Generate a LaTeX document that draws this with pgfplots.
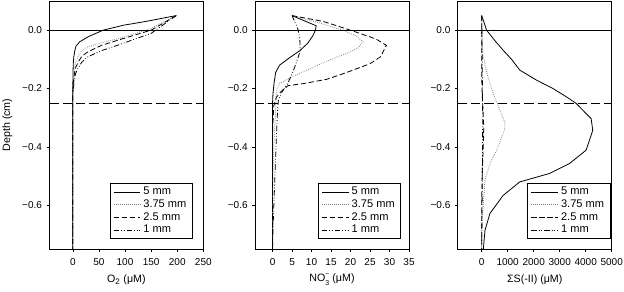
\documentclass[border=0pt]{standalone}
\usepackage{fontspec}
\setmainfont{Liberation Sans}
\usepackage{pgfplots}
\pgfplotsset{compat=1.18}
\pgfplotsset{
 panel/.style={
  scale only axis, width=115.5pt, height=186pt,
  ymin=-0.75, ymax=0.1,
  ytick={-0.6,-0.4,-0.2,0}, yticklabels={−0.6,−0.4,−0.2,0.0},
  tick align=outside, major tick length=2pt,
  xtick pos=bottom, ytick pos=left,
  tick style={black, line width=0.4pt},
  axis line style={line width=0.5pt},
  ticklabel style={font=\fontsize{7.5}{8.5}\selectfont},
  xticklabel style={yshift=-1.5pt},
  label style={font=\fontsize{8}{9.5}\selectfont},
  xlabel style={at={(axis description cs:0.5,0)}, anchor=center, yshift=-23.25pt},
  legend style={at={(rel axis cs:1,0)}, anchor=south east, yshift=7.5pt,
    font=\fontsize{8.3}{9.3}\selectfont, draw=black, line width=0.4pt,
    inner xsep=2.5pt, inner ysep=1pt, row sep=-1.8pt, cells={anchor=west}},
  legend image code/.code={\draw[##1] (0pt,0pt) -- (20pt,0pt);},
 },
 s5/.style={black, line width=0.6pt, solid},
 s375/.style={black!50, line width=0.65pt, dash pattern=on 0.5pt off 1pt},
 s25/.style={black, line width=0.6pt, dash pattern=on 4pt off 2pt},
 s1/.style={black, line width=0.6pt, dash pattern=on 4pt off 1.5pt on 0.6pt off 1.5pt on 0.6pt off 1.5pt},
 zl/.style={black, line width=0.5pt, forget plot},
 dl/.style={black, line width=0.5pt, dash pattern=on 7pt off 3pt, forget plot},
}
\begin{document}
\begin{tikzpicture}
\useasboundingbox (0,0) rectangle (468pt,219pt);
% ---------- O2 ----------
\begin{axis}[panel, at={(37pt,32.25pt)}, anchor=south west,
  legend style={xshift=-8pt},
  xmin=-45, xmax=250, xtick={0,50,100,150,200,250}, xticklabels={0,50,100,150,200,250},
  xlabel={O\textsubscript{2} (μM)}, ylabel={Depth (cm)},
  ylabel style={at={(axis description cs:-0.272,0.5)}, anchor=center}]
\addplot[s5] coordinates {(198,0.05) (140,0.03) (97,0.017) (58,0) (30,-0.022) (13,-0.04) (6,-0.055) (3.8,-0.07) (2,-0.09) (0.8,-0.115) (0.3,-0.15) (0,-0.2) (0,-0.75)};
\addplot[s375] coordinates {(198,0.05) (150,0.006) (118,-0.012) (87,-0.029) (55,-0.043) (29,-0.057) (17,-0.07) (10,-0.09) (5,-0.11) (3,-0.13) (1,-0.16) (0,-0.2) (0,-0.75)};
\addplot[s25] coordinates {(198,0.05) (150,0.0) (118,-0.017) (87,-0.034) (55,-0.052) (29,-0.074) (17,-0.09) (10,-0.11) (5,-0.13) (3,-0.15) (1,-0.18) (0,-0.21) (0,-0.75)};
\addplot[s1] coordinates {(198,0.05) (150,-0.011) (118,-0.031) (87,-0.051) (55,-0.07) (29,-0.091) (17,-0.11) (10,-0.13) (5,-0.15) (3,-0.17) (1,-0.2) (0,-0.22) (0,-0.75)};
\addplot[zl] coordinates {(-45,0) (250,0)};
\addplot[dl] coordinates {(-45,-0.25) (250,-0.25)};
\legend{5 mm,3.75 mm,2.5 mm,1 mm}
\end{axis}
% ---------- NO3 ----------
\begin{axis}[panel, at={(191.25pt,32.25pt)}, anchor=south west,
  legend style={xshift=-6pt},
  xmin=-4.5, xmax=35, xtick={0,5,10,15,20,25,30,35}, xticklabels={0,5,10,15,20,25,30,35},
  xlabel={NO\raisebox{-0.75ex}{\fontsize{5.2}{5.2}\selectfont\shortstack[l]{−\\[0.15ex]3}} (μM)}]
\addplot[s5] coordinates {(5,0.05) (11.2,0.015) (11,0) (10.3,-0.02) (9,-0.045) (7,-0.07) (3.8,-0.1) (1.8,-0.12) (0.8,-0.145) (0.4,-0.18) (0.1,-0.22) (0,-0.25) (0,-0.75)};
\addplot[s375] coordinates {(5,0.05) (12,0.025) (18,0.0) (21.5,-0.02) (23.2,-0.04) (22,-0.06) (19,-0.08) (15,-0.1) (10,-0.13) (5,-0.16) (1.8,-0.183) (1.2,-0.2) (0.9,-0.23) (0.8,-0.27) (0.7,-0.3) (0.5,-0.35) (0.3,-0.42) (0.1,-0.5) (0,-0.6) (0,-0.75)};
\addplot[s25] coordinates {(5,0.05) (13,0.03) (20,0.0) (26.5,-0.03) (29.2,-0.052) (28.5,-0.07) (27.8,-0.09) (25,-0.115) (19,-0.145) (14,-0.168) (8,-0.183) (4,-0.19) (2.2,-0.21) (1,-0.23) (0.3,-0.26) (0,-0.35) (0,-0.75)};
\addplot[s1] coordinates {(5,0.05) (6,0.02) (6.6,0) (7,-0.035) (7.1,-0.07) (6.4,-0.1) (5.3,-0.14) (3.9,-0.183) (2.5,-0.21) (1.5,-0.24) (1.3,-0.27) (1.1,-0.33) (0.9,-0.4) (0.5,-0.54) (0.2,-0.65) (0,-0.75)};
\addplot[zl] coordinates {(-4.5,0) (35,0)};
\addplot[dl] coordinates {(-4.5,-0.25) (35,-0.25)};
\legend{5 mm,3.75 mm,2.5 mm,1 mm}
\end{axis}
% ---------- Sulfide ----------
\begin{axis}[panel, at={(343.3pt,32.25pt)}, anchor=south west,
  legend style={xshift=-1pt},
  xmin=-920, xmax=5000, xtick={0,1000,2000,3000,4000,5000}, xticklabels={0,1000,2000,3000,4000,5000},
  xlabel={ΣS(-II) (μM)}]
\addplot[s5] coordinates {(0,0.05) (191,0) (500,-0.035) (828,-0.069) (1150,-0.1) (1466,-0.137) (2104,-0.171) (2741,-0.2) (3250,-0.228) (3634,-0.251) (3950,-0.28) (4208,-0.303) (4270,-0.343) (4017,-0.411) (3378,-0.457) (2613,-0.491) (1466,-0.52) (828,-0.566) (318,-0.628) (127,-0.686) (64,-0.75)};
\addplot[s375] coordinates {(0,0.05) (10,0) (30,-0.05) (64,-0.091) (180,-0.14) (318,-0.183) (500,-0.23) (700,-0.274) (892,-0.315) (880,-0.34) (828,-0.354) (574,-0.411) (318,-0.457) (127,-0.514) (64,-0.594) (20,-0.65) (0,-0.75)};
\addplot[s25] coordinates {(0,0.05) (0,-0.15) (20,-0.22) (60,-0.29) (80,-0.33) (60,-0.4) (25,-0.48) (0,-0.58) (0,-0.75)};
\addplot[s1] coordinates {(0,0.05) (15,-0.05) (30,-0.2) (40,-0.3) (30,-0.45) (15,-0.6) (0,-0.75)};
\addplot[zl] coordinates {(-920,0) (5000,0)};
\addplot[dl] coordinates {(-920,-0.25) (5000,-0.25)};
\legend{5 mm,3.75 mm,2.5 mm,1 mm}
\end{axis}
\end{tikzpicture}
\end{document}
